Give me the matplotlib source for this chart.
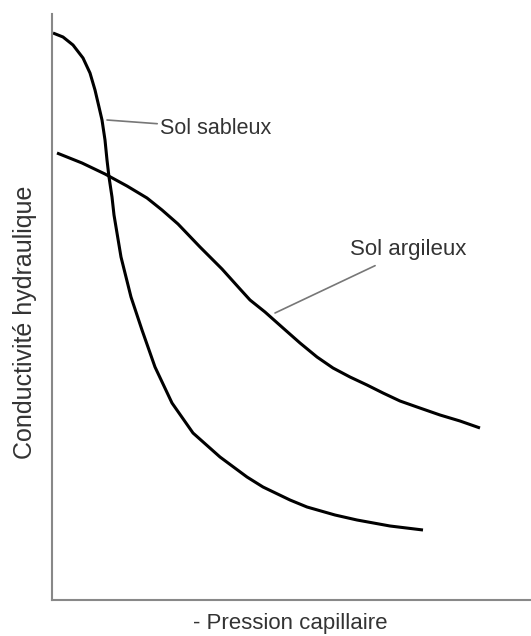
import numpy as np
import matplotlib.pyplot as plt

plt.rcParams['font.family'] = ['Liberation Sans', 'DejaVu Sans']

# valeurs (unités arbitraires)
x_sable = [1, 11, 21, 31, 38, 43, 47, 50, 53, 55, 57, 60, 62, 69, 79, 90, 103, 120,
           141, 168, 195, 211, 238, 255, 283, 305, 338, 371]
y_sable = [567, 563, 555, 542, 527, 510, 493, 480, 460, 440, 423, 403, 385, 343, 303, 270, 233, 197,
           167, 143, 123, 113, 100, 93, 85, 80, 74, 70]

x_argile = [5, 30, 53, 75, 95, 110, 126, 148, 170, 188, 198, 213, 231, 248, 265, 281, 298,
            315, 331, 348, 365, 388, 408, 428]
y_argile = [447, 437, 426, 414, 402, 390, 376, 353, 331, 311, 300, 288, 272, 257, 243, 232, 223,
            215, 207, 199, 193, 185, 179, 172]

lbl_sable = 'Sol sableux'
lbl_argile = 'Sol argileux'

fig = plt.figure(figsize=(5.31, 6.36), dpi=100)
ax = fig.add_axes([52/531, 36/636, 479/531, 586/636])

ax.plot(x_sable, y_sable, c='black', lw=2.2, solid_capstyle='butt', solid_joinstyle='round')
ax.plot(x_argile, y_argile, c='black', lw=2.2, solid_capstyle='butt', solid_joinstyle='round')

ax.set_xlim(0, 479)
ax.set_ylim(0, 586)

# étiquettes avec trait de rappel
ax.annotate(lbl_sable, xy=(55, 480), xytext=(108, 472), fontsize=15.5, color='#333333',
            va='center', ha='left',
            arrowprops=dict(arrowstyle='-', color='#777777', lw=1.2, shrinkA=0, shrinkB=0))
ax.annotate(lbl_argile, xy=(223, 287), xytext=(298, 350), fontsize=16, color='#333333',
            va='center', ha='left',
            arrowprops=dict(arrowstyle='-', color='#777777', lw=1.2, shrinkA=4, shrinkB=0))

ax.set_xticks([])
ax.set_yticks([])
ax.spines[['top', 'right']].set_visible(False)
ax.spines[['left', 'bottom']].set_color('#888888')
ax.spines[['left', 'bottom']].set_linewidth(1.5)

fig.text(290/531, 1 - 624/636, '- Pression capillaire', fontsize=16, color='#333333',
         ha='center', va='center')
fig.text(25/531, 1 - 322/636, 'Conductivité hydraulique', fontsize=18, color='#333333',
         ha='center', va='center', rotation=90)

plt.savefig('out.png', dpi=100)
